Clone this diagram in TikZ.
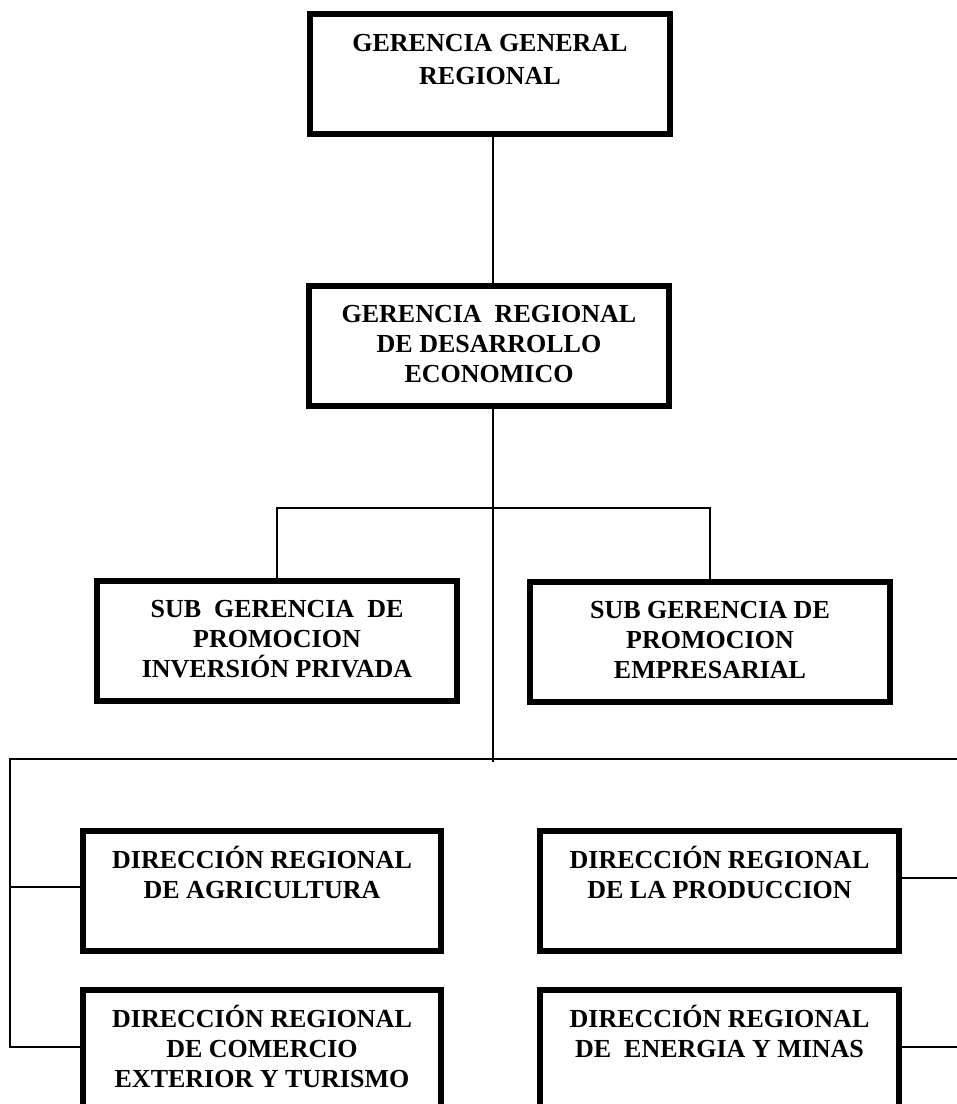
\documentclass[tikz,border=0pt]{standalone}
\usepackage{fontspec}
\setmainfont{Liberation Serif}
% Text block of a unit box: fixed inner height, lines hung from the top
\newcommand{\unittext}[3]{\parbox[c][120pt][t]{#1}{\centering\baselineskip=#2\relax\rule{0pt}{37pt}#3}}
\begin{document}
\begin{tikzpicture}[x=1pt,y=-1pt,
  orgbox/.style={draw, line width=6pt, inner sep=0pt, fill=white,
    font=\bfseries\fontsize{26}{30}\selectfont},
  link/.style={line width=1.6pt}]
\useasboundingbox (0,0) rectangle (957,1104);
\clip (0,0) rectangle (957,1104);

% management units
\node[orgbox] (gg) at (490,74)    {\unittext{360pt}{33pt}{GERENCIA GENERAL\\REGIONAL}};
\node[orgbox] (gr) at (489,345.5) {\unittext{360pt}{30pt}{GERENCIA~\ REGIONAL\\DE DESARROLLO\\ECONOMICO}};
\node[orgbox] (sp) at (277,640.5) {\unittext{360pt}{30pt}{SUB~\ GERENCIA~\ DE\\PROMOCION\\INVERSIÓN PRIVADA}};
\node[orgbox] (se) at (710,641.5) {\unittext{360pt}{30pt}{SUB GERENCIA DE\\PROMOCION\\EMPRESARIAL}};

% regional directorates
\node[orgbox] (da) at (262,891)    {\unittext{358pt}{30pt}{DIRECCIÓN REGIONAL\\DE AGRICULTURA}};
\node[orgbox] (dp) at (719.5,891)  {\unittext{359pt}{30pt}{DIRECCIÓN REGIONAL\\DE LA PRODUCCION}};
\node[orgbox] (dc) at (262,1050)   {\unittext{358pt}{30pt}{DIRECCIÓN REGIONAL\\DE COMERCIO\\EXTERIOR Y TURISMO}};
\node[orgbox] (de) at (719.5,1050) {\unittext{359pt}{30pt}{DIRECCIÓN REGIONAL\\DE~\ ENERGIA Y MINAS}};

% routing points of the connectors
\coordinate (spine) at (493,0);
\coordinate (brk)   at (493,508);
\coordinate (spineend) at (493,762);
\coordinate (lt)    at (10,759);
\coordinate (re)    at (957,759);
\coordinate (daj)   at (0,887);
\coordinate (dpj)   at (957,878);
\coordinate (lowj)  at (0,1047);
\coordinate (rlow)  at (957,1047);

% connectors
\draw[link] (gg.south -| spine) -- (gr.north -| spine);
\draw[link] (gr.south -| spine) -- (spineend);
\draw[link] (sp.north) -- (sp.north |- brk) -- (se.north |- brk) -- (se.north);
\draw[link] (re) -- (lt) -- (lt |- lowj) -- (dc.west |- lowj);
\draw[link] (lt |- daj) -- (da.west |- daj);
\draw[link] (dp.east |- dpj) -- (dpj);
\draw[link] (de.east |- lowj) -- (rlow);
\end{tikzpicture}
\end{document}
